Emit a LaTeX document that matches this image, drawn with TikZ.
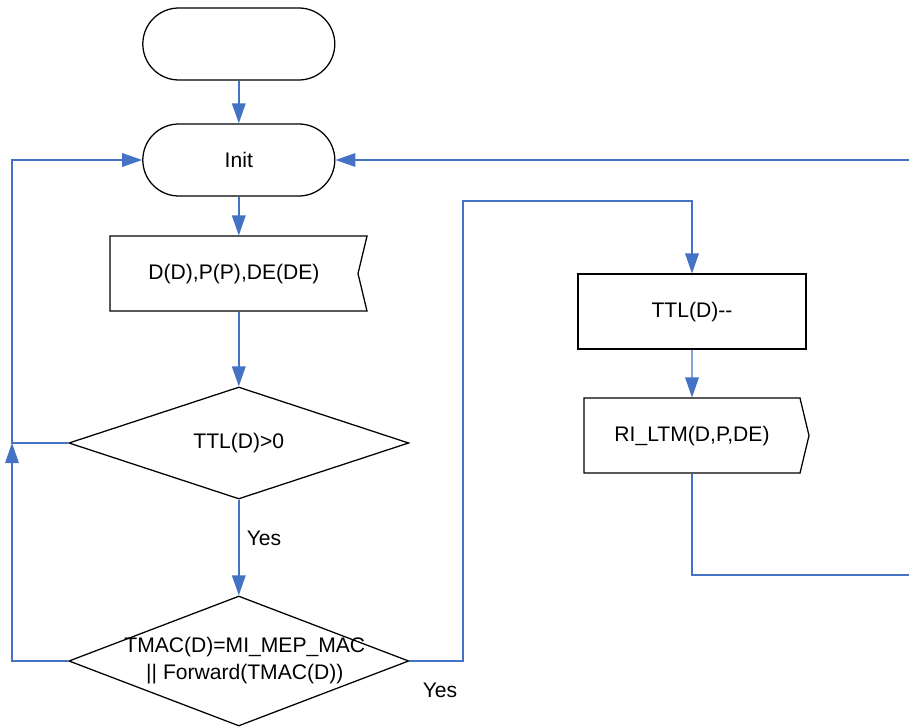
\documentclass[tikz,border=0pt]{standalone}
\usepackage{fontspec}
\setmainfont{Liberation Sans}
\usetikzlibrary{arrows.meta,shapes.geometric,shapes.symbols}
\definecolor{flujo}{HTML}{4472C4}

\begin{document}
\begin{tikzpicture}[line width=0.9pt,>={Triangle[length=5mm,width=3.4mm]},
  font=\fontsize{15}{19}\selectfont,
  term/.style={draw,rounded corners=0.9cm,minimum width=4.8cm,minimum height=1.8cm},
  caja/.style={draw,minimum width=5.7cm,minimum height=1.875cm},
  senal/.style={draw,signal,signal pointer angle=153,minimum height=1.875cm},
  decision/.style={draw,diamond,minimum width=8.5cm,minimum height=2.8cm,inner sep=0pt},
  linea/.style={flujo,line width=1pt}]
  \useasboundingbox (0,0) rectangle (22.725,18.15);
  % columna izquierda
  \node[term] (inicio) at (5.97,17.05) {};
  \node[term] (init) at (5.97,14.15) {Init};
  \node[senal,signal to=nowhere,signal from=east,minimum width=6.425cm] (recv) at (5.85,11.31) {D(D),P(P),DE(DE)};
  \node[decision] (ttl) at (5.97,7.075) {TTL(D)>0};
  \node[decision,minimum height=3.25cm] (mac) at (5.97,1.625) {};
  \node[align=center] (mactxt) at (6.12,1.64) {TMAC(D)=MI\_MEP\_MAC\\|| Forward(TMAC(D))};
  \node (si1) at (6.6,4.7) {Yes};
  \node (si2) at (11,0.9) {Yes};
  % columna derecha
  \node[caja] (dec) at (17.3,10.36) {TTL(D)-{}-};
  \node[senal,signal to=east,minimum width=5.625cm] (ri) at (17.3,7.26) {RI\_LTM(D,P,DE)};
  % conectores
  \draw[linea,->] (inicio) -- (init);
  \draw[linea,->] (init) -- (init |- recv.north);
  \draw[linea,->] (ttl |- recv.south) -- (ttl);
  \draw[linea,->] (ttl) -- (mac);
  \coordinate (izq) at (0.3,7.075);
  \draw[linea,->] (ttl.west) -- (izq) |- (init.west);
  \draw[linea,->] (mac.west) -| (izq);
  \coordinate (sube) at (11.575,13.125);
  \draw[linea,->] (mac.east) -| (sube) -| (dec.north);
  \draw[linea,->] (dec) -- (ri);
  \coordinate (der) at (22.725,3.775);
  \draw[linea] (ri.south) |- (der);
  \coordinate (vuelta) at (22.725,14.15);
  \draw[linea,->] (vuelta) -- (init.east);
\end{tikzpicture}
\end{document}
